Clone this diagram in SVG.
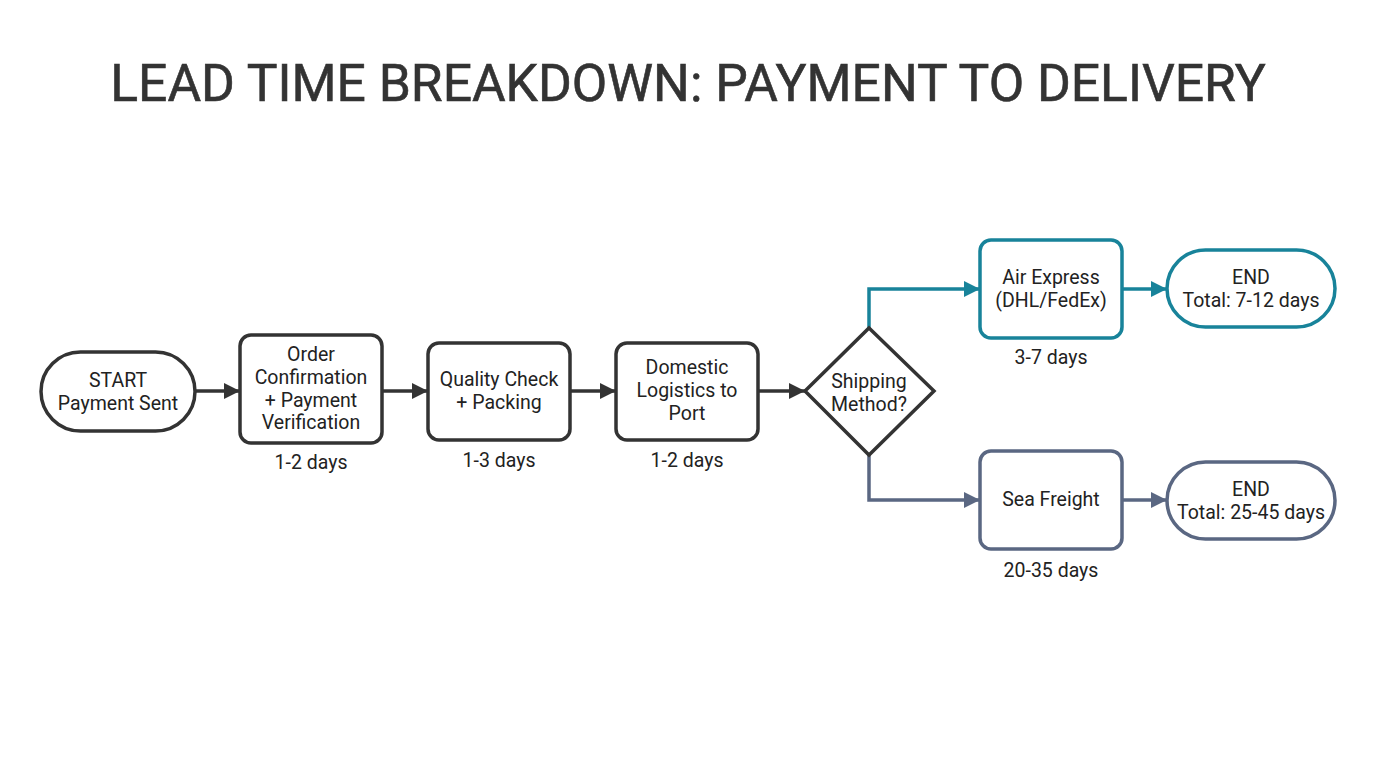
<svg xmlns="http://www.w3.org/2000/svg" width="1376" height="768" viewBox="0 0 1376 768">
<defs>
<style>
.t{font-family:Roboto,"Liberation Sans",sans-serif;font-size:19.5px;fill:#222;text-anchor:middle}
.title{font-family:Roboto,"Liberation Sans",sans-serif;font-size:51.6px;fill:#333;text-anchor:middle;stroke:#333;stroke-width:0.6}
.dk{fill:#fff;stroke:#333;stroke-width:3.5}
.air{fill:#fff;stroke:#18839a;stroke-width:3.5}
.sea{fill:#fff;stroke:#5a6782;stroke-width:3.5}
.c{fill:none;stroke-width:3.5}
</style>
<marker id="ad" viewBox="0 0 10 10" refX="10" refY="5" markerWidth="16" markerHeight="16" markerUnits="userSpaceOnUse" orient="auto"><path d="M0,0L10,5L0,10z" fill="#333"/></marker>
<marker id="aa" viewBox="0 0 10 10" refX="10" refY="5" markerWidth="16" markerHeight="16" markerUnits="userSpaceOnUse" orient="auto"><path d="M0,0L10,5L0,10z" fill="#18839a"/></marker>
<marker id="as" viewBox="0 0 10 10" refX="10" refY="5" markerWidth="16" markerHeight="16" markerUnits="userSpaceOnUse" orient="auto"><path d="M0,0L10,5L0,10z" fill="#5a6782"/></marker>
</defs>
<rect width="1376" height="768" fill="#fff"/>
<text class="title" x="688" y="101">LEAD TIME BREAKDOWN: PAYMENT TO DELIVERY</text>
<g id="connectors">
<path class="c" stroke="#333" d="M195,391H240" marker-end="url(#ad)"/>
<path class="c" stroke="#333" d="M382,391H428" marker-end="url(#ad)"/>
<path class="c" stroke="#333" d="M570,391H616" marker-end="url(#ad)"/>
<path class="c" stroke="#333" d="M758,391H805" marker-end="url(#ad)"/>
<path class="c" stroke="#18839a" d="M869,328V289H980" marker-end="url(#aa)"/>
<path class="c" stroke="#5a6782" d="M869,455V500H980" marker-end="url(#as)"/>
<path class="c" stroke="#18839a" d="M1122,289H1167" marker-end="url(#aa)"/>
<path class="c" stroke="#5a6782" d="M1122,500H1167" marker-end="url(#as)"/>
</g>
<g id="start">
<rect class="dk" x="41" y="352" width="154" height="79" rx="39.5"/>
<text class="t" x="118" y="387">START</text>
<text class="t" x="118" y="410">Payment Sent</text>
</g>
<g id="order">
<rect class="dk" x="240" y="335" width="142" height="108" rx="11"/>
<text class="t" x="311" y="361">Order</text>
<text class="t" x="311" y="384">Confirmation</text>
<text class="t" x="311" y="407">+ Payment</text>
<text class="t" x="311" y="429">Verification</text>
<text class="t" x="311" y="469">1-2 days</text>
</g>
<g id="quality">
<rect class="dk" x="428" y="343" width="142" height="97" rx="11"/>
<text class="t" x="499" y="386">Quality Check</text>
<text class="t" x="499" y="409">+ Packing</text>
<text class="t" x="499" y="467">1-3 days</text>
</g>
<g id="domestic">
<rect class="dk" x="616" y="343" width="142" height="97" rx="11"/>
<text class="t" x="687" y="374">Domestic</text>
<text class="t" x="687" y="397">Logistics to</text>
<text class="t" x="687" y="420">Port</text>
<text class="t" x="687" y="467">1-2 days</text>
</g>
<g id="decision">
<polygon class="dk" points="869,328 934,391 869,455 805,391"/>
<text class="t" x="869" y="388">Shipping</text>
<text class="t" x="869" y="411">Method?</text>
</g>
<g id="air">
<rect class="air" x="980" y="240" width="142" height="98" rx="11"/>
<text class="t" x="1051" y="284">Air Express</text>
<text class="t" x="1051" y="307">(DHL/FedEx)</text>
<text class="t" x="1051" y="364">3-7 days</text>
</g>
<g id="end-air">
<rect class="air" x="1167" y="250" width="168" height="77" rx="38.5"/>
<text class="t" x="1251" y="284">END</text>
<text class="t" x="1251" y="307">Total: 7-12 days</text>
</g>
<g id="sea">
<rect class="sea" x="980" y="451" width="142" height="98" rx="11"/>
<text class="t" x="1051" y="506">Sea Freight</text>
<text class="t" x="1051" y="577">20-35 days</text>
</g>
<g id="end-sea">
<rect class="sea" x="1167" y="462" width="168" height="77" rx="38.5"/>
<text class="t" x="1251" y="496">END</text>
<text class="t" x="1251" y="519">Total: 25-45 days</text>
</g>
</svg>
